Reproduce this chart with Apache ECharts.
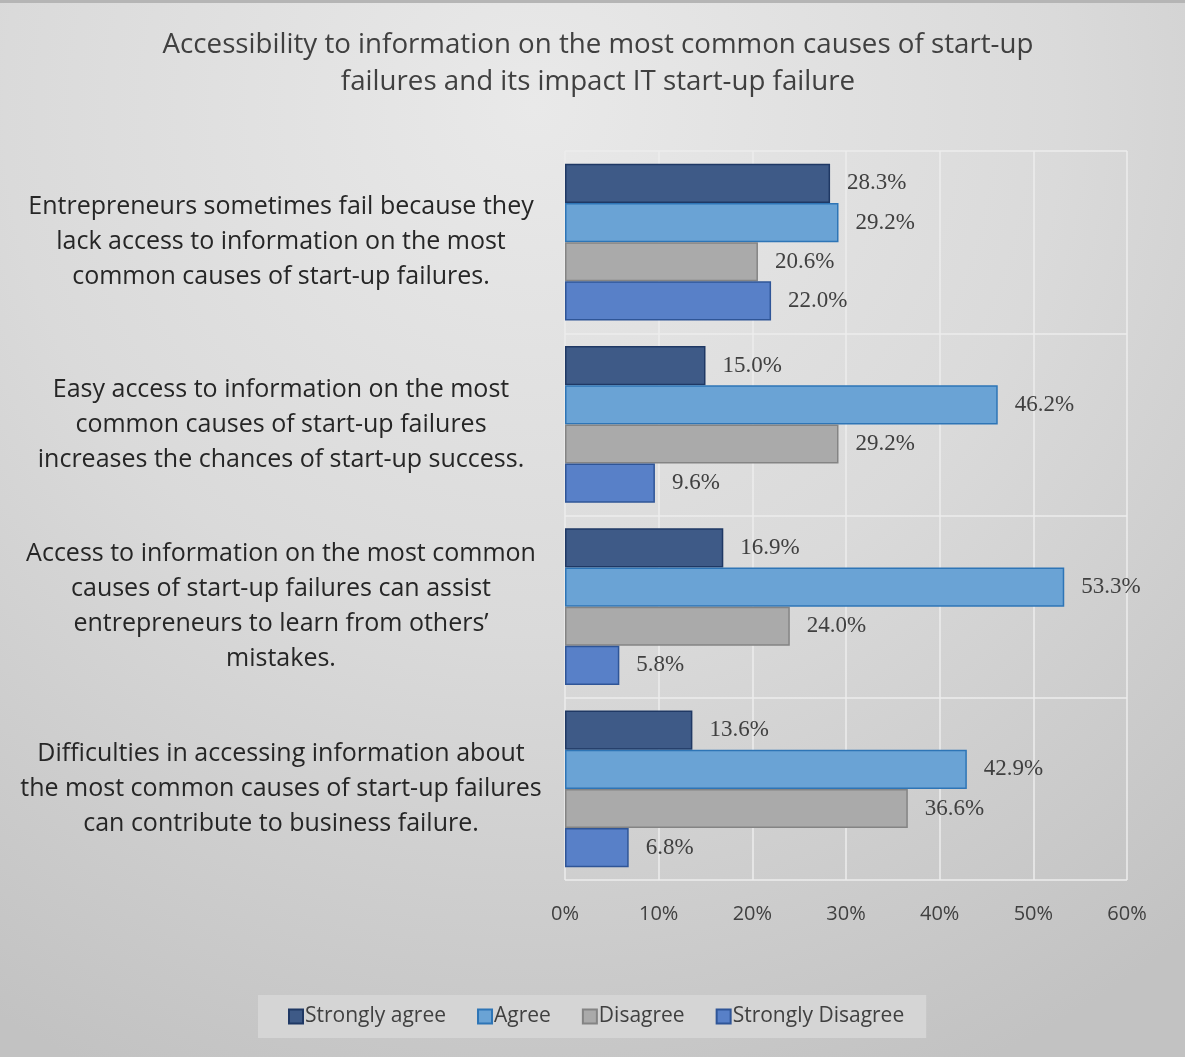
<!DOCTYPE html>
<html>
<head>
<meta charset="utf-8">
<script src="https://cdn.jsdelivr.net/npm/echarts@6/dist/echarts.min.js"></script>
<style>
  html, body { margin: 0; padding: 0; }
  #chart { width: 1185px; height: 1057px; }
</style>
</head>
<body>
<div id="chart"></div>
<script>
// Survey statements (top to bottom)
const categories = [
  'Entrepreneurs sometimes fail because they\nlack access to information on the most\ncommon causes of start-up failures.',
  'Easy access to information on the most\ncommon causes of start-up failures\nincreases the chances of start-up success.',
  'Access to information on the most common\ncauses of start-up failures can assist\nentrepreneurs to learn from others\u2019\nmistakes.',
  'Difficulties in accessing information about\nthe most common causes of start-up failures\ncan contribute to business failure.'
];

// Share of respondents per answer (%)
const stronglyAgree    = [28.3, 15.0, 16.9, 13.6];
const agree            = [29.2, 46.2, 53.3, 42.9];
const disagree         = [20.6, 29.2, 24.0, 36.6];
const stronglyDisagree = [22.0, 9.6, 5.8, 6.8];

const seriesNames = ['Strongly agree', 'Agree', 'Disagree', 'Strongly Disagree'];
const xTicks = [0, 10, 20, 30, 40, 50, 60];

const fills   = ['#3e5a87', '#6aa3d5', '#aaaaaa', '#5880c8'];
const borders = ['#1f3864', '#2e75b6', '#848484', '#2f5597'];

const valueSets = [stronglyAgree, agree, disagree, stronglyDisagree];

const sans = '"Open Sans", "Noto Sans", sans-serif';

const chart = echarts.init(document.getElementById('chart'));

chart.setOption({
  backgroundColor: {
    type: 'radial', x: 0.45, y: 0.1, r: 1.0,
    colorStops: [
      { offset: 0, color: '#e9e9e9' },
      { offset: 0.5, color: '#dadada' },
      { offset: 1, color: '#c2c2c2' }
    ]
  },
  graphic: [
    { type: 'rect', left: 0, top: 0, shape: { width: 1185, height: 3 }, style: { fill: '#b5b5b5' } }
  ],
  title: {
    text: 'Accessibility to information on the most common causes of start-up\nfailures and its impact IT start-up failure',
    left: 593, top: 22, textAlign: 'center',
    textStyle: {
      fontFamily: sans,
      fontSize: 27.7, fontWeight: 'normal', color: '#404040', lineHeight: 37
    }
  },
  legend: {
    left: 258, top: 995, height: 46,
    padding: [11, 22, 11, 30],
    backgroundColor: '#d5d5d5',
    itemWidth: 14, itemHeight: 14, itemGap: 31,
    icon: 'rect',
    textStyle: { fontFamily: sans, fontSize: 21, color: '#404040', padding: [0, 0, 0, -3] },
    data: seriesNames
  },
  grid: { left: 565, right: 58, top: 151, bottom: 177 },
  xAxis: {
    type: 'value', min: 0, max: 60, interval: 10,
    axisLine: { show: false },
    axisTick: { show: false },
    splitLine: { show: true, lineStyle: { color: '#ececec', width: 1.5 } },
    axisLabel: {
      formatter: '{value}%', fontFamily: sans, fontSize: 20, color: '#404040', margin: 24
    }
  },
  yAxis: {
    type: 'category', inverse: true, data: categories,
    axisLine: { show: false },
    axisTick: { show: false },
    splitLine: { show: true, lineStyle: { color: '#ececec', width: 1.5 } },
    axisLabel: {
      fontFamily: sans, fontSize: 25, color: '#262626', lineHeight: 35,
      align: 'center', margin: 284
    }
  },
  series: seriesNames.map((name, i) => ({
    name: name,
    type: 'bar',
    data: valueSets[i],
    barGap: '0%',
    barCategoryGap: '14%',
    itemStyle: { color: fills[i], borderColor: borders[i], borderWidth: 1.5 },
    label: {
      show: true, position: 'right', distance: 17,
      formatter: (p) => p.value.toFixed(1) + '%',
      fontFamily: '"Liberation Serif", "Times New Roman", serif',
      fontSize: 23, color: '#404040'
    }
  }))
});
</script>
</body>
</html>
